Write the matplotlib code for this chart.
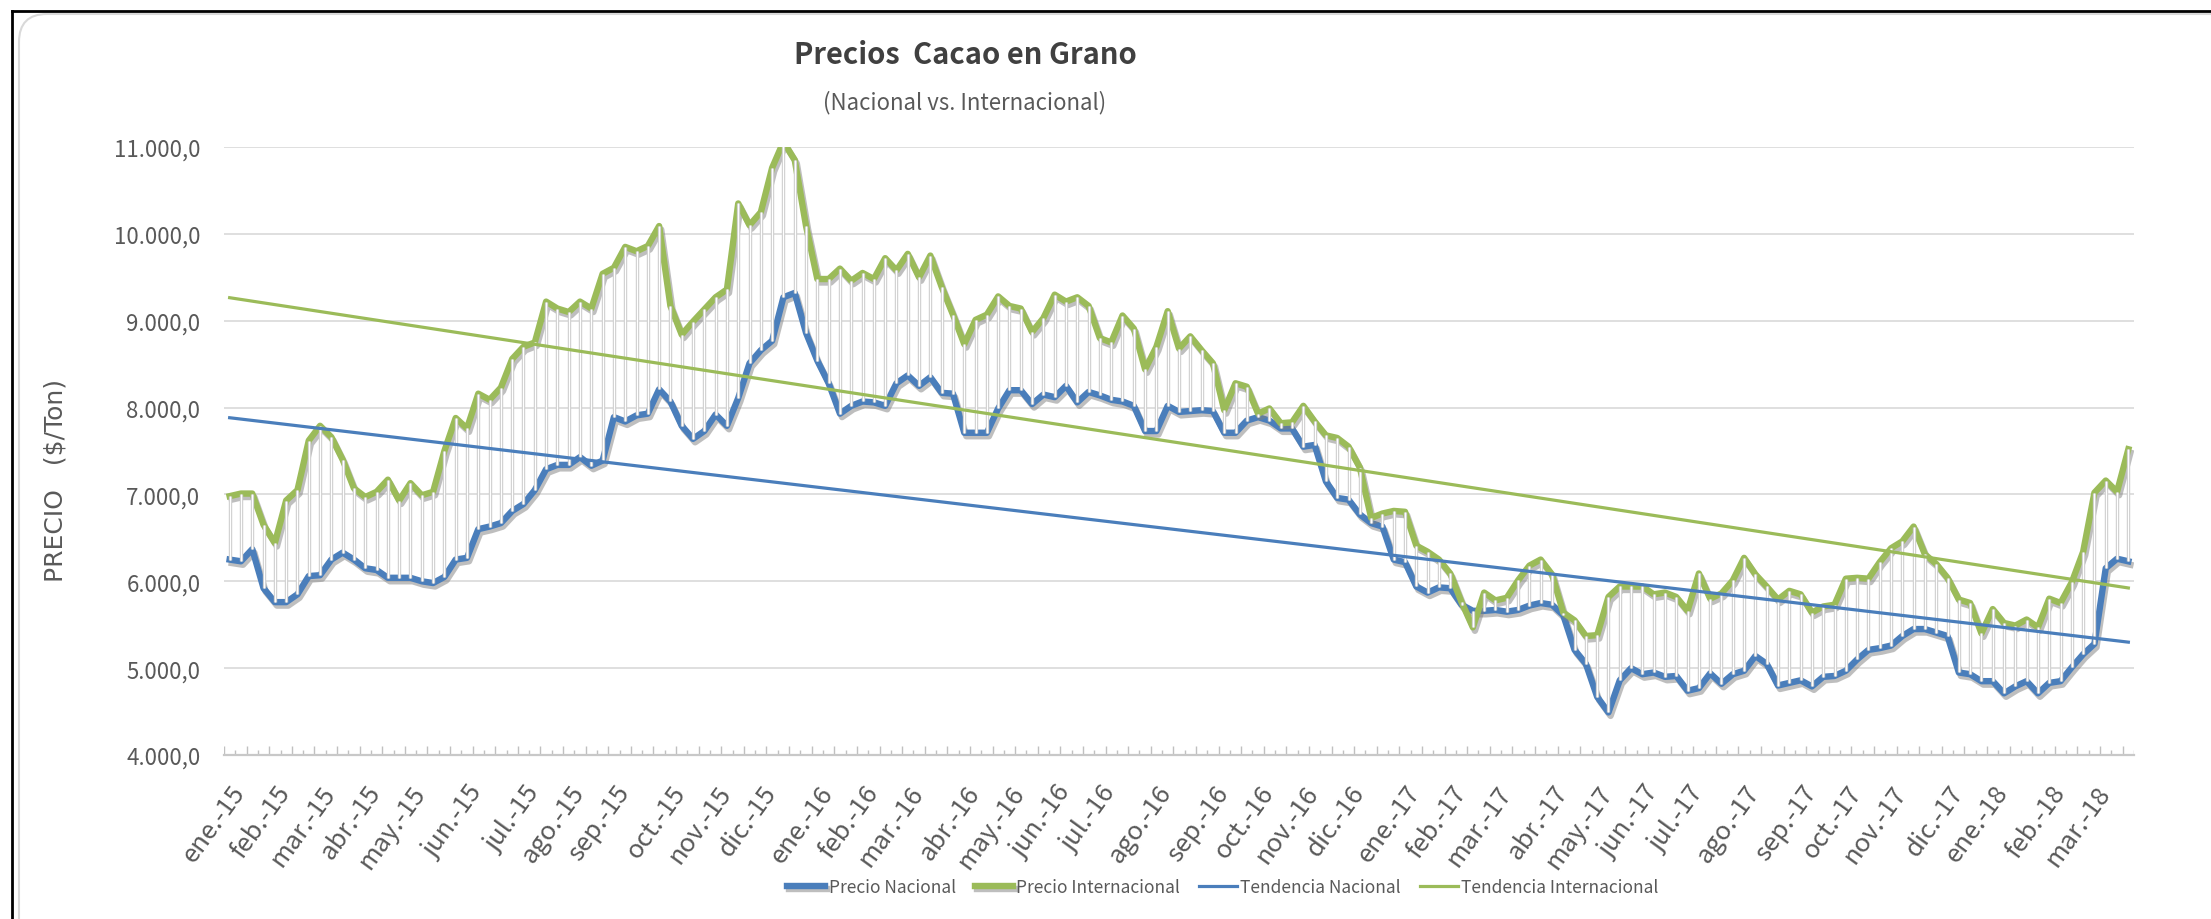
import matplotlib as mpl
mpl.use('Agg')
import matplotlib.pyplot as plt
import matplotlib.patheffects as pe
from matplotlib.lines import Line2D
from matplotlib.patches import FancyBboxPatch
from matplotlib.transforms import IdentityTransform
import numpy as np

NARROW = ['Noto Sans CJK SC', 'DejaVu Sans']

# weekly prices ($/Ton)
precio_internacional = [
    6980, 7010, 7010, 6650, 6440, 6930, 7050, 7620, 7790, 7660,
    7400, 7070, 6970, 7030, 7170, 6930, 7130, 6990, 7030, 7500,
    7880, 7760, 8160, 8090, 8230, 8560, 8700, 8750, 9220, 9140,
    9100, 9220, 9140, 9540, 9610, 9850, 9800, 9860, 10090, 9170,
    8840, 8990, 9130, 9270, 9360, 10350, 10100, 10250, 10760, 11060,
    10850, 10090, 9480, 9480, 9600, 9460, 9550, 9480, 9720, 9580,
    9770, 9500, 9750, 9390, 9070, 8730, 9010, 9070, 9280, 9170,
    9140, 8870, 9030, 9300, 9220, 9270, 9170, 8800, 8750, 9060,
    8910, 8440, 8700, 9110, 8680, 8820, 8660, 8510, 7970, 8280,
    8240, 7930, 7990, 7820, 7830, 8020, 7840, 7680, 7650, 7550,
    7310, 6730, 6780, 6810, 6800, 6410, 6340, 6250, 6090, 5760,
    5470, 5870, 5780, 5810, 6010, 6180, 6250, 6080, 5640, 5550,
    5370, 5380, 5820, 5940, 5940, 5940, 5850, 5870, 5820, 5660,
    6090, 5800, 5860, 6010, 6270, 6080, 5940, 5790, 5890, 5850,
    5640, 5710, 5730, 6030, 6040, 6030, 6220, 6380, 6460, 6630,
    6310, 6200, 6040, 5790, 5750, 5400, 5680, 5520, 5490, 5560,
    5470, 5800, 5750, 5990, 6340, 7020, 7160, 7030, 7520,
]

precio_nacional = [
    6250, 6230, 6370, 5920, 5760, 5760, 5850, 6060, 6070, 6250,
    6330, 6250, 6150, 6130, 6040, 6040, 6040, 6000, 5980, 6050,
    6250, 6270, 6600, 6630, 6670, 6810, 6890, 7050, 7290, 7340,
    7340, 7430, 7330, 7390, 7890, 7840, 7910, 7930, 8210, 8070,
    7790, 7640, 7730, 7920, 7790, 8110, 8510, 8660, 8770, 9270,
    9320, 8860, 8540, 8280, 7930, 8020, 8070, 8060, 8020, 8280,
    8370, 8250, 8350, 8170, 8160, 7710, 7710, 7710, 7990, 8200,
    8200, 8040, 8150, 8120, 8250, 8060, 8180, 8140, 8090, 8070,
    8020, 7730, 7730, 8020, 7950, 7960, 7970, 7960, 7710, 7710,
    7850, 7890, 7850, 7760, 7760, 7550, 7570, 7150, 6960, 6940,
    6770, 6670, 6630, 6250, 6220, 5940, 5870, 5930, 5920, 5730,
    5660, 5660, 5670, 5650, 5670, 5720, 5750, 5730, 5610, 5210,
    5050, 4670, 4490, 4860, 5000, 4930, 4950, 4900, 4910, 4740,
    4770, 4940, 4820, 4930, 4970, 5140, 5050, 4800, 4830, 4860,
    4790, 4900, 4910, 4970, 5100, 5210, 5230, 5260, 5370, 5450,
    5450, 5410, 5370, 4950, 4930, 4850, 4850, 4710, 4790, 4850,
    4710, 4830, 4850, 5010, 5160, 5280, 6150, 6260, 6230,
]

meses = ['ene.-15', 'feb.-15', 'mar.-15', 'abr.-15', 'may.-15', 'jun.-15',
         'jul.-15', 'ago.-15', 'sep.-15', 'oct.-15', 'nov.-15', 'dic.-15',
         'ene.-16', 'feb.-16', 'mar.-16', 'abr.-16', 'may.-16', 'jun.-16',
         'jul.-16', 'ago.-16', 'sep.-16', 'oct.-16', 'nov.-16', 'dic.-16',
         'ene.-17', 'feb.-17', 'mar.-17', 'abr.-17', 'may.-17', 'jun.-17',
         'jul.-17', 'ago.-17', 'sep.-17', 'oct.-17', 'nov.-17', 'dic.-17',
         'ene.-18', 'feb.-18', 'mar.-18']
semanas_por_mes = [4, 4, 4, 4, 5, 5, 4, 4, 5, 4, 4, 5,
                   4, 4, 5, 4, 4, 4, 5, 5, 4, 4, 4, 5,
                   4, 4, 5, 4, 4, 4, 5, 5, 4, 4, 5, 4,
                   5, 4, 4]

y_ticks = [4000, 5000, 6000, 7000, 8000, 9000, 10000, 11000]

BLUE = '#4a7ebb'
GREEN = '#9bbb59'
GRAY_TXT = '#595959'

W, H = 2211, 920
fig = plt.figure(figsize=(W / 100, H / 100), dpi=100)
ax = fig.add_axes([224 / W, 1 - 756 / H, (2134 - 224) / W, (756 - 148) / H])

nac = np.array(precio_nacional, dtype=float)
inter = np.array(precio_internacional, dtype=float)
x = np.arange(len(nac))

# high-low lines
lo = np.minimum(nac, inter)
hi = np.maximum(nac, inter)
ax.vlines(x, lo, hi, color='#c9c9c9', lw=2.4, zorder=4)
ax.vlines(x, lo, hi, color='white', lw=1.0, zorder=4)

shadow = [pe.SimpleLineShadow(offset=(1.5, -2.5), shadow_color='#7f7f7f', alpha=0.5), pe.Normal()]
ax.plot(x, nac, color=BLUE, lw=4.6, solid_joinstyle='round', zorder=3,
        path_effects=shadow, label='Precio Nacional')
ax.plot(x, inter, color=GREEN, lw=4.6, solid_joinstyle='round', zorder=3,
        path_effects=shadow, label='Precio Internacional')

# linear trends
for serie, color, name in [(nac, BLUE, 'Tendencia Nacional'), (inter, GREEN, 'Tendencia Internacional')]:
    m, b = np.polyfit(x, serie, 1)
    ax.plot(x, m * x + b, color=color, lw=2.3, zorder=5, label=name)

ax.set_xlim(-0.5, len(x) - 0.5)
ax.set_ylim(4000, 11000)

def fmt(v):
    return f"{v:,.1f}".replace(',', 'X').replace('.', ',').replace('X', '.')

ax.set_yticks(y_ticks)
ax.set_yticklabels([fmt(v) for v in y_ticks], family=NARROW, fontsize=16, color=GRAY_TXT)
ax.tick_params(axis='y', length=0, pad=17)
ax.grid(axis='y', color='#d9d9d9', lw=1.2, zorder=0)
ax.set_axisbelow(True)

starts = np.concatenate([[0], np.cumsum(semanas_por_mes)[:-1]])
ax.set_xticks(starts)
ax.set_xticklabels(meses, family=NARROW, fontsize=18.5, color=GRAY_TXT,
                   rotation=54, ha='right', va='top', rotation_mode='anchor')
ax.tick_params(axis='x', length=0, pad=18)

# category tick marks (inside, alternating)
bounds = np.arange(len(x) + 1) - 0.5
ax.vlines(bounds[::2], 4000, 4000 + 7000 * 9 / 608, color='#c0c0c0', lw=1.0, zorder=2)
ax.vlines(bounds[1::2], 4000, 4000 + 7000 * 5 / 608, color='#c0c0c0', lw=1.0, zorder=2)

for s in ['top', 'right', 'left']:
    ax.spines[s].set_visible(False)
ax.spines['bottom'].set_color('#c8c8c8')
ax.spines['bottom'].set_linewidth(1.6)

fig.text(965 / W, 1 - 55 / H, 'Precios  Cacao en Grano', family=NARROW, fontsize=21,
         fontweight='bold', color='#404040', ha='center', va='center')
fig.text(965 / W, 1 - 103 / H, '(Nacional vs. Internacional)', family=NARROW, fontsize=16,
         color=GRAY_TXT, ha='center', va='center')
fig.text(56 / W, 1 - 480 / H, 'PRECIO   ($/Ton)', fontsize=18, color=GRAY_TXT,
         rotation=90, ha='center', va='center')

fig.legend(loc='center', bbox_to_anchor=(1223 / W, 1 - 888 / H), ncol=4, frameon=False,
           prop={'family': NARROW, 'size': 12.5}, labelcolor=GRAY_TXT,
           handlelength=2.2, handletextpad=0.18, columnspacing=1.1)

# chart frame
fig.add_artist(Line2D([12 / W, 1], [1 - 12 / H, 1 - 12 / H], color='black', lw=2))
fig.add_artist(Line2D([12 / W, 12 / W], [0, 1 - 12 / H], color='black', lw=2))
frame = FancyBboxPatch((19, -30), 2300, H - 15 + 30, boxstyle='round,pad=0,rounding_size=28',
                       fc='none', ec='#d9d9d9', lw=1.5, transform=IdentityTransform())
fig.add_artist(frame)

fig.savefig('out.png', dpi=100)
